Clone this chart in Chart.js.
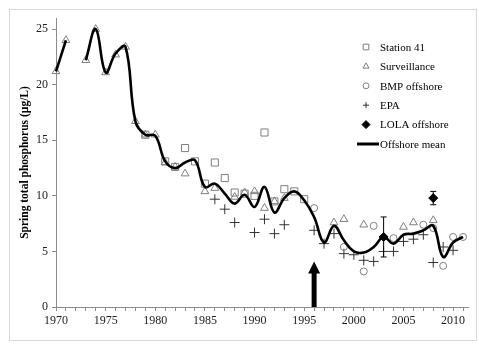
<!DOCTYPE html>
<html>
<head>
<meta charset="utf-8">
<script src="https://cdn.jsdelivr.net/npm/chart.js@4.4.0/dist/chart.umd.min.js"></script>
<style>
html, body { margin: 0; padding: 0; background: #fff; }
#wrap { position: relative; width: 479px; height: 345px; }
#frame { position: absolute; left: 9px; top: 9px; width: 468px; height: 332px; border: 1px solid #d9d9d9; box-sizing: border-box; }
canvas { position: absolute; left: 0; top: 0; }
</style>
</head>
<body>
<div id="wrap"><div id="frame"></div><canvas id="myChart" width="479" height="345"></canvas></div>
<script>
// offshore mean, one value per year (no data in 1972)
const meanYears = [1970, 1971, 1972, 1973, 1974, 1975, 1976, 1977, 1978, 1979, 1980,
    1981, 1982, 1983, 1984, 1985, 1986, 1987, 1988, 1989, 1990,
    1991, 1992, 1993, 1994, 1995, 1996, 1997, 1998, 1999, 2000,
    2001, 2002, 2003, 2004, 2005, 2006, 2007, 2008, 2009, 2010, 2011];
const meanVals = [21.2, 24.0, null, 22.2, 25.0, 21.1, 22.8, 23.4, 16.7, 15.5, 15.4,
    13.1, 12.5, 13.0, 13.2, 10.8, 11.1, 10.2, 9.3, 10.1, 9.0,
    10.8, 8.5, 9.8, 10.4, 9.6, 8.1, 5.8, 7.3, 6.0, 5.0,
    4.9, 5.4, 6.3, 5.7, 6.5, 6.6, 6.9, 7.3, 4.5, 5.8, 6.3];

const stationYears = [1979, 1981, 1982, 1983, 1984, 1985, 1986, 1987, 1988, 1989, 1990, 1991, 1992, 1993, 1994, 1995];
const stationVals = [15.5, 13.1, 12.6, 14.3, 13.1, 11.1, 13.0, 11.6, 10.3, 10.2, 10.0, 15.7, 9.5, 10.6, 10.4, 9.7];

const survYears = [1970, 1971, 1973, 1974, 1975, 1976, 1977, 1978, 1979, 1980, 1981, 1982, 1983,
    1985, 1986, 1988, 1989, 1990, 1991, 1992, 1993, 1998, 1999, 2001, 2005, 2006, 2008];
const survVals = [21.2, 24.0, 22.2, 25.0, 21.1, 22.7, 23.4, 16.7, 15.5, 15.5, 13.0, 12.6, 12.0,
    10.4, 10.7, 9.9, 10.3, 10.4, 8.9, 9.5, 9.8, 7.6, 7.9, 7.4, 7.2, 7.6, 7.8];

const bmpYears = [1996, 1999, 2001, 2002, 2004, 2007, 2008, 2009, 2010, 2011];
const bmpVals = [8.9, 5.4, 3.2, 7.3, 6.2, 7.4, 7.1, 3.7, 6.3, 6.3];

const epaYears = [1986, 1987, 1988, 1990, 1991, 1992, 1993, 1996, 1997, 1998, 1999, 2000,
    2001, 2002, 2003, 2004, 2005, 2006, 2007, 2008, 2009, 2010];
const epaVals = [9.7, 8.8, 7.6, 6.7, 7.9, 6.6, 7.4, 6.9, 5.7, 6.6, 4.8, 4.7,
    4.2, 4.1, 5.0, 5.0, 5.9, 6.1, 6.5, 4.0, 5.4, 5.1];

const lolaYears = [2003, 2008];
const lolaVals = [6.3, 9.8];
const lolaLow = [4.5, 9.2];
const lolaHigh = [8.1, 10.4];

// arrow marking 1996
const arrowYear = 1996;
const arrowTop = 4.1;

const yTicks = [0, 5, 10, 15, 20, 25];

function pts(xs, ys) {
    return xs.map((x, i) => ({ x: x, y: ys[i] }));
}

const grey = '#7f7f7f';
const serif = "'Liberation Serif', 'Times New Roman', serif";

const errorBars = {
    id: 'errorBars',
    afterDatasetsDraw(chart) {
        const ctx = chart.ctx, xs = chart.scales.x, ys = chart.scales.y;
        ctx.save();
        ctx.strokeStyle = '#000';
        ctx.lineWidth = 1;
        lolaYears.forEach((yr, i) => {
            const px = xs.getPixelForValue(yr);
            const lo = ys.getPixelForValue(lolaLow[i]);
            const hi = ys.getPixelForValue(lolaHigh[i]);
            ctx.beginPath();
            ctx.moveTo(px, lo); ctx.lineTo(px, hi);
            ctx.moveTo(px - 3, lo); ctx.lineTo(px + 3, lo);
            ctx.moveTo(px - 3, hi); ctx.lineTo(px + 3, hi);
            ctx.stroke();
        });
        ctx.restore();
    }
};

const arrow = {
    id: 'arrow',
    afterDatasetsDraw(chart) {
        const ctx = chart.ctx, xs = chart.scales.x, ys = chart.scales.y;
        const px = xs.getPixelForValue(arrowYear);
        const base = ys.getPixelForValue(0);
        const tip = ys.getPixelForValue(arrowTop);
        ctx.save();
        ctx.fillStyle = '#000';
        ctx.fillRect(px - 2.5, tip + 11, 5, base - tip - 11);
        ctx.beginPath();
        ctx.moveTo(px, tip);
        ctx.lineTo(px - 6, tip + 12);
        ctx.lineTo(px + 6, tip + 12);
        ctx.closePath();
        ctx.fill();
        ctx.restore();
    }
};

const boxLegend = {
    id: 'boxLegend',
    afterDraw(chart) {
        const ctx = chart.ctx;
        const markX = 366, textX = 380, top = 47, step = 19.4;
        ctx.save();
        ctx.font = '11px ' + serif;
        ctx.textBaseline = 'middle';
        ctx.fillStyle = '#000';
        chart.data.datasets.forEach((ds, i) => {
            const y = top + i * step;
            if (ds.showLine) {
                ctx.strokeStyle = ds.borderColor;
                ctx.lineWidth = 3;
                ctx.beginPath();
                ctx.moveTo(markX - 9, y);
                ctx.lineTo(textX - 1, y);
                ctx.stroke();
            } else {
                ctx.strokeStyle = ds.borderColor;
                ctx.fillStyle = ds.backgroundColor;
                ctx.lineWidth = 1;
                Chart.helpers.drawPoint(ctx, {
                    pointStyle: ds.pointStyle,
                    radius: ds.legendRadius,
                    borderWidth: 1
                }, markX, y);
            }
            ctx.fillStyle = '#000';
            ctx.fillText(ds.label, textX, y + 1);
        });
        ctx.restore();
    }
};

var ctx = document.getElementById('myChart').getContext('2d');
var myChart = new Chart(ctx, {
    type: 'scatter',
    data: {
        datasets: [
            {
                label: 'Station 41',
                data: pts(stationYears, stationVals),
                pointStyle: 'rect',
                pointRadius: 5,
                legendRadius: 4,
                borderColor: grey,
                backgroundColor: 'rgba(255,255,255,0)',
                borderWidth: 1,
                clip: 8,
                order: 2
            },
            {
                label: 'Surveillance',
                data: pts(survYears, survVals),
                pointStyle: 'triangle',
                pointRadius: 4.5,
                legendRadius: 3.5,
                borderColor: grey,
                backgroundColor: 'rgba(255,255,255,0)',
                borderWidth: 1,
                clip: 8,
                order: 2
            },
            {
                label: 'BMP offshore',
                data: pts(bmpYears, bmpVals),
                pointStyle: 'circle',
                pointRadius: 3.5,
                legendRadius: 3,
                borderColor: grey,
                backgroundColor: 'rgba(255,255,255,0)',
                borderWidth: 1,
                clip: 8,
                order: 2
            },
            {
                label: 'EPA',
                data: pts(epaYears, epaVals),
                pointStyle: 'cross',
                pointRadius: 5,
                legendRadius: 3,
                borderColor: '#333',
                backgroundColor: '#333',
                borderWidth: 1,
                clip: 8,
                order: 2
            },
            {
                label: 'LOLA offshore',
                data: pts(lolaYears, lolaVals),
                pointStyle: 'rectRot',
                pointRadius: 4.5,
                legendRadius: 4,
                borderColor: '#000',
                backgroundColor: '#000',
                borderWidth: 1,
                clip: 8,
                order: 0
            },
            {
                label: 'Offshore mean',
                data: pts(meanYears, meanVals),
                showLine: true,
                spanGaps: false,
                tension: 0.4,
                pointRadius: 0,
                borderColor: '#000',
                backgroundColor: '#000',
                borderWidth: 2.6,
                clip: 8,
                order: 1
            }
        ]
    },
    options: {
        responsive: false,
        animation: false,
        events: [],
        layout: { padding: { left: 0, top: 18, right: 11, bottom: 0 } },
        plugins: {
            legend: { display: false },
            tooltip: { enabled: false }
        },
        scales: {
            x: {
                type: 'linear',
                min: 1970,
                max: 2011.5,
                afterBuildTicks: (axis) => {
                    const t = [];
                    for (let v = 1970; v <= 2011; v++) t.push({ value: v });
                    axis.ticks = t;
                },
                afterFit: (s) => { s.height = 38; },
                border: { color: '#8c8c8c', width: 1 },
                grid: { drawOnChartArea: false, tickLength: 4, color: '#8c8c8c' },
                ticks: {
                    autoSkip: false,
                    maxRotation: 0,
                    padding: 3,
                    color: '#222',
                    font: { family: serif, size: 12 },
                    callback: (v) => (v % 5 === 0 ? String(v) : '')
                }
            },
            y: {
                min: 0,
                max: 26,
                afterBuildTicks: (axis) => {
                    axis.ticks = yTicks.map(v => ({ value: v }));
                },
                afterFit: (s) => { s.width = 56; },
                border: { color: '#8c8c8c', width: 1 },
                grid: { drawOnChartArea: false, tickLength: 4, color: '#8c8c8c' },
                ticks: {
                    padding: 4,
                    color: '#222',
                    font: { family: serif, size: 12 }
                },
                title: {
                    display: true,
                    text: 'Spring total phosphorus (µg/L)',
                    color: '#000',
                    padding: { top: 18, bottom: 0 },
                    font: { family: serif, size: 11.5, weight: 'bold' }
                }
            }
        }
    },
    plugins: [errorBars, arrow, boxLegend]
});
</script>
</body>
</html>
